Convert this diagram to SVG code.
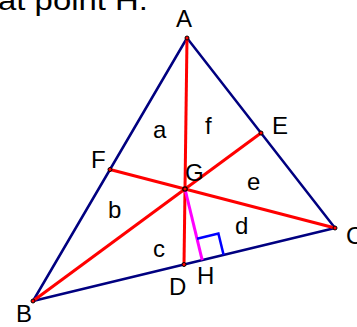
<svg xmlns="http://www.w3.org/2000/svg" width="357" height="327" viewBox="0 0 357 327">
<style>
text{font-family:"Liberation Sans",Arial,sans-serif;font-size:24px;fill:#000}
.side{stroke:#000080;stroke-width:2.5;fill:none;stroke-linecap:round}
.med{stroke:#ff0000;stroke-width:3;fill:none}
.alt{stroke:#ff00ff;stroke-width:3;fill:none}
.ra{stroke:#0000ff;stroke-width:2.5;fill:none}
.pt{fill:#ff0000;stroke:#000;stroke-width:1}
.gpt{fill:#ff0000;stroke:#000;stroke-width:1.2}
</style>
<rect width="357" height="327" fill="#fff"/>
<text x="-2" y="10" style="font-size:27px" textLength="150" lengthAdjust="spacingAndGlyphs">at point H.</text>
<g id="connectors">
<polygon class="side" points="187,38 33,301 335,228" stroke-linejoin="round"/>
<line class="med" x1="187" y1="38" x2="184" y2="264.5"/>
<line class="med" x1="33" y1="301" x2="261" y2="133"/>
<line class="med" x1="335" y1="228" x2="110" y2="169.5"/>
<line class="alt" x1="185" y1="189" x2="202.2" y2="260.1"/>
<polyline class="ra" points="197,238.7 218.4,233.5 223.6,254.9"/>
</g>
<g id="A"><circle class="pt" cx="187" cy="38" r="2"/><text x="184" y="27" text-anchor="middle">A</text></g>
<g id="B"><circle class="pt" cx="33" cy="301" r="2"/><text x="16" y="322">B</text></g>
<g id="C"><circle class="pt" cx="335" cy="228" r="2"/><text x="346" y="244">C</text></g>
<g id="D"><circle class="pt" cx="184" cy="264.5" r="2"/><text x="169" y="295">D</text></g>
<g id="E"><circle class="pt" cx="261" cy="133" r="2"/><text x="272" y="134">E</text></g>
<g id="F"><circle class="pt" cx="110" cy="169.5" r="2"/><text x="91" y="168">F</text></g>
<g id="G"><circle class="gpt" cx="185" cy="189" r="2.2"/><text x="185" y="181">G</text></g>
<g id="H"><text x="197" y="284">H</text></g>
<g id="a"><text x="153" y="138">a</text></g>
<g id="f"><text x="205" y="134">f</text></g>
<g id="e"><text x="247" y="190">e</text></g>
<g id="b"><text x="108" y="218">b</text></g>
<g id="c"><text x="153" y="257">c</text></g>
<g id="d"><text x="235" y="234">d</text></g>
</svg>
